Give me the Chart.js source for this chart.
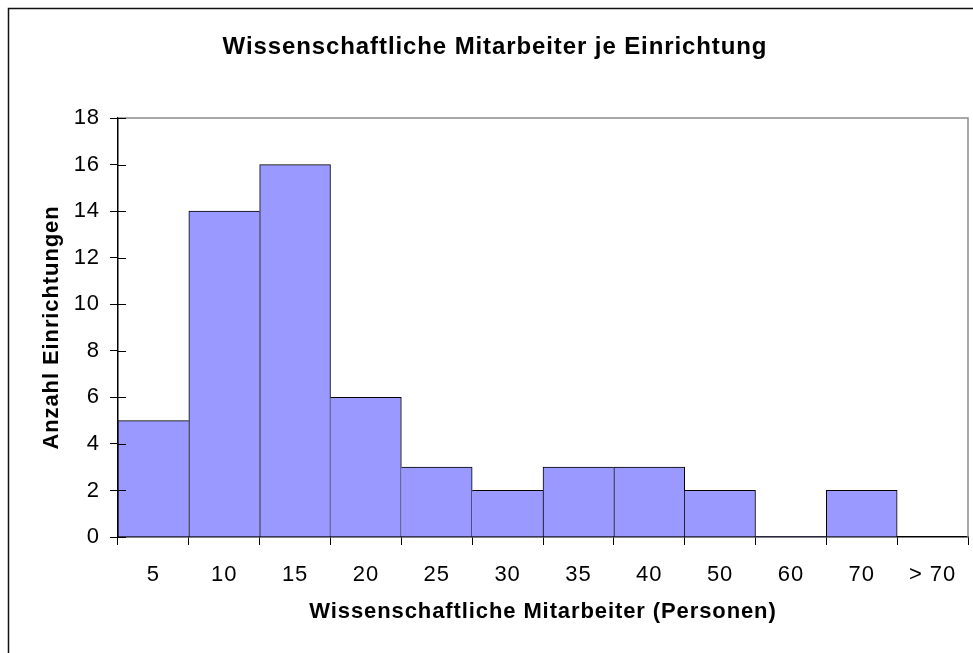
<!DOCTYPE html>
<html>
<head>
<meta charset="utf-8">
<script src="https://cdn.jsdelivr.net/npm/chart.js@4/dist/chart.umd.min.js"></script>
<style>
  html, body { margin: 0; padding: 0; background: #fff; }
  #wrap { width: 973px; height: 653px; }
</style>
</head>
<body>
<div id="wrap"><canvas id="c" width="973" height="653"></canvas></div>
<script>
const categories = ['5', '10', '15', '20', '25', '30', '35', '40', '50', '60', '70', '> 70'];
const counts = [5, 14, 16, 6, 3, 2, 3, 3, 2, 0, 2, 0];
const yTicks = [0, 2, 4, 6, 8, 10, 12, 14, 16, 18];

const chartTitle = 'Wissenschaftliche Mitarbeiter je Einrichtung';
const xTitle = 'Wissenschaftliche Mitarbeiter (Personen)';
const yTitle = 'Anzahl Einrichtungen';

const FONT = '"Liberation Sans", Arial, Helvetica, sans-serif';
Chart.defaults.font.family = FONT;
Chart.defaults.color = '#000';

const decor = {
  id: 'decor',
  beforeDraw(chart) {
    chart.ctx.letterSpacing = '0.9px';
  },
  afterDraw(chart) {
    const ctx = chart.ctx;
    const a = chart.chartArea;
    const y = chart.scales.y;
    ctx.save();
    ctx.letterSpacing = '0px';
    // outer frame
    ctx.strokeStyle = '#111';
    ctx.lineWidth = 1.5;
    ctx.strokeRect(8.5, 8.5, 1200, 1200);
    // plot border (top/right) gray
    ctx.strokeStyle = '#8c8c8c';
    ctx.lineWidth = 1.5;
    ctx.beginPath();
    ctx.moveTo(a.left, a.top);
    ctx.lineTo(a.right, a.top);
    ctx.lineTo(a.right, a.bottom);
    ctx.stroke();
    // inner y tick marks
    ctx.strokeStyle = '#000';
    ctx.lineWidth = 1;
    ctx.beginPath();
    y.ticks.forEach(t => {
      const py = Math.round(y.getPixelForValue(t.value)) + 0.5;
      ctx.moveTo(a.left, py);
      ctx.lineTo(a.left + 8, py);
    });
    ctx.stroke();
    ctx.restore();
  }
};

function bw(ctx) {
  const i = ctx.dataIndex;
  const v = counts[i];
  const prev = i > 0 ? counts[i - 1] : -1;
  const next = i < counts.length - 1 ? counts[i + 1] : -1;
  return {
    top: 1,
    bottom: 0,
    left: prev <= v ? 1 : 0,
    right: next < v ? 1 : 0
  };
}

new Chart(document.getElementById('c'), {
  type: 'bar',
  data: {
    labels: categories,
    datasets: [{
      data: counts,
      backgroundColor: '#9999FF',
      borderColor: '#000',
      borderWidth: bw,
      borderSkipped: false,
      barPercentage: 1,
      categoryPercentage: 1
    }]
  },
  plugins: [decor],
  options: {
    responsive: false,
    animation: false,
    layout: { padding: { left: 22, right: 5, top: 0, bottom: 0 } },
    plugins: {
      legend: { display: false },
      tooltip: { enabled: false },
      title: {
        display: true,
        text: chartTitle,
        color: '#000',
        font: { family: FONT, size: 24, weight: 'bold', lineHeight: 1.2 },
        padding: { top: 32.6, bottom: 56.6 }
      }
    },
    scales: {
      x: {
        afterFit(s) { s.height = 116; },
        grid: { display: true, offset: true, drawOnChartArea: false, drawTicks: true, tickLength: 8, color: '#000', lineWidth: 1 },
        border: { display: true, color: '#000', width: 1.5 },
        ticks: { color: '#000', font: { family: FONT, size: 22 }, padding: 16.3, maxRotation: 0, autoSkip: false },
        title: {
          display: true,
          text: xTitle,
          color: '#000',
          font: { family: FONT, size: 22, weight: 'bold', lineHeight: 1.2 },
          padding: { top: 0, bottom: 27.8 }
        }
      },
      y: {
        min: 0,
        max: 18,
        afterFit(s) { s.width = 96; },
        afterBuildTicks(s) { s.ticks = yTicks.map(v => ({ value: v })); },
        grid: { display: true, drawOnChartArea: false, drawTicks: true, tickLength: 8, color: '#000', lineWidth: 1 },
        border: { display: true, color: '#000', width: 1.5 },
        ticks: { color: '#000', font: { family: FONT, size: 22 }, padding: 10.1 },
        title: {
          display: true,
          text: yTitle,
          color: '#000',
          font: { family: FONT, size: 22, weight: 'bold', lineHeight: 1.2 },
          padding: { top: 16.8, bottom: 0 }
        }
      }
    }
  }
});
</script>
</body>
</html>
